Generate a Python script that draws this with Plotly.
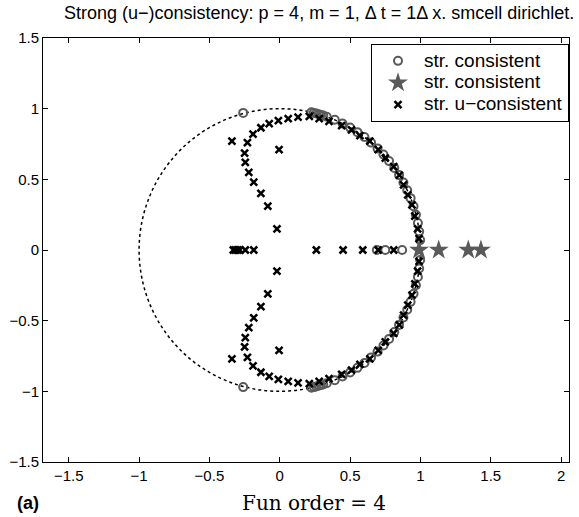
import plotly.graph_objects as go

# --- data ---
# strongly consistent eigenvalues (open circles), upper half of the arc
circ_arc_x = [0.225, 0.242, 0.259, 0.276, 0.292, 0.309, 0.334, 0.391, 0.446, 0.500, 0.552,
              0.602, 0.649, 0.695, 0.737, 0.777, 0.814, 0.848, 0.879, 0.906, 0.930, 0.951,
              0.968, 0.982, 0.991, 0.998, -0.26]
circ_arc_y = [0.974, 0.970, 0.966, 0.961, 0.956, 0.951, 0.943, 0.921, 0.895, 0.866, 0.834,
              0.799, 0.760, 0.719, 0.676, 0.629, 0.581, 0.530, 0.477, 0.423, 0.367, 0.309,
              0.250, 0.191, 0.131, 0.070, 0.97]
circ_real_x = [0.69, 0.75, 0.87]

# strongly consistent eigenvalues (stars), on the real axis
star_x = [0.99, 1.13, 1.34, 1.43]
star_y = [0.0, 0.0, 0.0, 0.0]

# strongly u-consistent eigenvalues (x), upper half
ucon_x = [-0.02, -0.085, -0.134, -0.185, -0.22, -0.245, -0.25, -0.23, -0.19, -0.134, -0.075,
          -0.01, 0.06, 0.13, 0.21, 0.28, 0.35, 0.44, 0.51, 0.57, 0.64, 0.70, 0.75, 0.81,
          0.85, 0.88, 0.91, 0.94, 0.96, 0.98, 0.99, -0.34, -0.005]
ucon_y = [0.15, 0.31, 0.40, 0.48, 0.55, 0.62, 0.685, 0.76, 0.82, 0.865, 0.895, 0.915, 0.93,
          0.94, 0.945, 0.93, 0.91, 0.88, 0.85, 0.81, 0.77, 0.71, 0.65, 0.59, 0.53, 0.46,
          0.39, 0.32, 0.24, 0.15, 0.08, 0.77, 0.71]
ucon_real_x = [-0.33, -0.315, -0.30, -0.285, -0.245, -0.185, 0.26, 0.45, 0.59, 0.70, 0.81]

x_ticks = [-1.5, -1, -0.5, 0, 0.5, 1, 1.5, 2]
y_ticks = [-1.5, -1, -0.5, 0, 0.5, 1, 1.5]

# conjugate pairs (spectrum is symmetric about the real axis)
cx = circ_arc_x + circ_arc_x + circ_real_x
cy = circ_arc_y + [-v for v in circ_arc_y] + [0.0] * len(circ_real_x)
ux = ucon_x + ucon_x + ucon_real_x
uy = ucon_y + [-v for v in ucon_y] + [0.0] * len(ucon_real_x)

GRAY = "#5a5a5a"
SANS = "Liberation Sans, Arial"


def lname(s):
    return f'<span style="font-size:19px">{s}</span>'


fig = go.Figure()
fig.add_shape(type="circle", xref="x", yref="y", x0=-1, y0=-1, x1=1, y1=1,
              line=dict(color="black", width=1.5, dash="dot"), layer="below")
fig.add_trace(go.Scatter(x=cx, y=cy, mode="markers", name=lname("str. consistent"),
                         marker=dict(symbol="circle-open", size=8, color=GRAY,
                                     line=dict(width=2, color=GRAY))))
fig.add_trace(go.Scatter(x=star_x, y=star_y, mode="markers", name=lname("str. consistent"),
                         marker=dict(symbol="star", size=15, color=GRAY,
                                     line=dict(width=0))))
fig.add_trace(go.Scatter(x=ux, y=uy, mode="markers", name=lname("str. u\u2212consistent"),
                         marker=dict(symbol="x-thin-open", size=7, color="black",
                                     line=dict(width=2.5, color="black"))))


def fmt(v):
    return ("\u2212" if v < 0 else "") + f"{abs(v):g}"


axis_common = dict(showgrid=False, zeroline=False, showline=True, linecolor="black",
                   linewidth=1, mirror="ticks", ticks="inside", ticklen=5,
                   tickcolor="black", tickfont=dict(family=SANS, size=15, color="black"))
fig.update_xaxes(range=[-1.683, 2.056], tickvals=x_ticks,
                 ticktext=[fmt(v) for v in x_ticks], **axis_common)
fig.update_yaxes(range=[-1.5, 1.5], tickvals=y_ticks,
                 ticktext=[fmt(v) for v in y_ticks], **axis_common)

fig.update_layout(
    width=579, height=517,
    margin=dict(l=39, r=9, t=38, b=55),
    plot_bgcolor="white", paper_bgcolor="white",
    showlegend=True,
    legend=dict(x=1, xanchor="right", y=0.986, yanchor="top",
                bgcolor="white", bordercolor="black", borderwidth=1,
                font=dict(family=SANS, size=14.5, color="black"),
                itemwidth=42, tracegroupgap=0),
    annotations=[
        dict(text="Strong (u\u2212)consistency: p = 4, m = 1, \u0394 t = 1\u0394 x. smcell dirichlet.",
             xref="paper", yref="paper", x=(577 - 39) / 531, y=1, yshift=25,
             xanchor="right", yanchor="middle", showarrow=False,
             font=dict(family=SANS, size=18, color="black")),
        dict(text="Fun order = 4", xref="paper", yref="paper",
             x=(313 - 39) / 531, y=0, yshift=-41, xanchor="center", yanchor="middle",
             showarrow=False,
             font=dict(family="DejaVu Serif, serif", size=20, color="black")),
        dict(text="<b>(a)</b>", xref="paper", yref="paper",
             x=-0.053, y=0, yshift=-41, xanchor="left", yanchor="middle",
             showarrow=False,
             font=dict(family=SANS, size=18, color="black")),
    ],
)

fig.write_html("out.html")
